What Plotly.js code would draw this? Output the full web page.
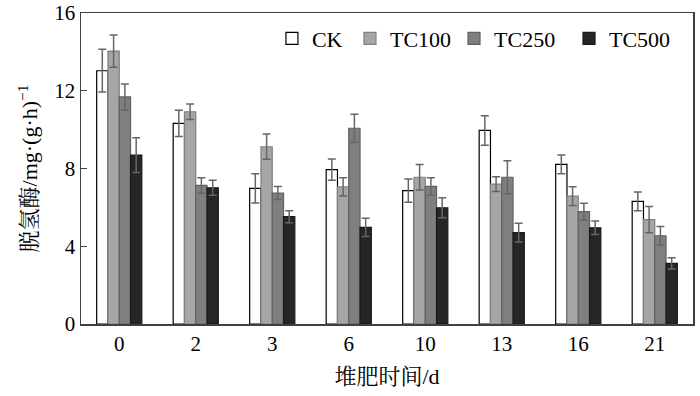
<!DOCTYPE html>
<html><head><meta charset="utf-8">
<script src="https://cdn.plot.ly/plotly-3.0.1.min.js"></script>
<style>body{margin:0;padding:0;background:#fff}#chart{width:700px;height:396px}</style>
</head><body><div id="chart"></div>
<script>
const categories = ["0", "2", "3", "6", "10", "13", "16", "21"];
const seriesNames = ["CK", "TC100", "TC250", "TC500"];
const ck     = [13.03, 10.32, 6.98, 7.94, 6.86, 9.96, 8.21, 6.31];
const ckErr  = [1.10, 0.68, 0.75, 0.55, 0.60, 0.76, 0.48, 0.48];
const tc100    = [14.04, 10.92, 9.12, 7.06, 7.55, 7.20, 6.58, 5.37];
const tc100Err = [0.83, 0.40, 0.65, 0.47, 0.66, 0.38, 0.48, 0.67];
const tc250    = [11.68, 7.13, 6.74, 10.07, 7.08, 7.55, 5.78, 4.54];
const tc250Err = [0.67, 0.40, 0.33, 0.72, 0.45, 0.85, 0.43, 0.47];
const tc500    = [8.69, 7.01, 5.52, 4.97, 5.98, 4.70, 4.95, 3.12];
const tc500Err = [0.89, 0.38, 0.31, 0.47, 0.52, 0.48, 0.35, 0.29];

const values = [ck, tc100, tc250, tc500];
const errs = [ckErr, tc100Err, tc250Err, tc500Err];
const fills = ["#ffffff", "#a6a6a6", "#7f7f7f", "#262626"];
const lines = ["#000000", "#808080", "#606060", "#1a1a1a"];
const legendIds = ["legend", "legend2", "legend3", "legend4"];
const legendX = [0.312, 0.4395, 0.6095, 0.7974];
const font = "Liberation Serif, Times New Roman, Noto Serif CJK SC, Noto Sans CJK SC, serif";

const data = seriesNames.map((n, i) => ({
  type: "bar", name: n, x: categories, y: values[i], legend: legendIds[i],
  marker: {color: fills[i], line: {color: lines[i], width: 1.2}},
  error_y: {type: "data", array: errs[i], visible: true, color: "#666666", thickness: 1.5, width: 4}
}));

const layout = {
  width: 700, height: 396,
  margin: {l: 81, r: 7, t: 13, b: 72},
  paper_bgcolor: "#fff", plot_bgcolor: "#fff",
  barmode: "group", bargap: 0.41, bargroupgap: 0,
  font: {family: font, size: 21, color: "#000"},
  showlegend: true,
  xaxis: {type: "category", showline: true, linecolor: "#404040", linewidth: 1.5, mirror: true,
          ticks: "", showgrid: false, tickfont: {family: font, size: 21},
          title: {text: "堆肥时间/d", font: {family: font, size: 22}, standoff: 14}},
  yaxis: {range: [0, 16], tickvals: [0, 4, 8, 12, 16], showline: true, linecolor: "#404040", linewidth: 1.5,
          mirror: true, ticks: "inside", ticklen: 6, tickcolor: "#404040", showgrid: false, zeroline: false,
          tickfont: {family: font, size: 21},
          title: {text: "脱氢酶/mg·(g·h)<sup>−1</sup>", font: {family: font, size: 22}, standoff: 10}}
};
legendIds.forEach((id, i) => {
  layout[id] = {orientation: "h", x: legendX[i], xanchor: "left", y: 0.985, yanchor: "top",
                font: {family: font, size: 22}, bgcolor: "rgba(0,0,0,0)", itemwidth: 30};
});
Plotly.newPlot("chart", data, layout, {displayModeBar: false, staticPlot: true});
</script></body></html>
